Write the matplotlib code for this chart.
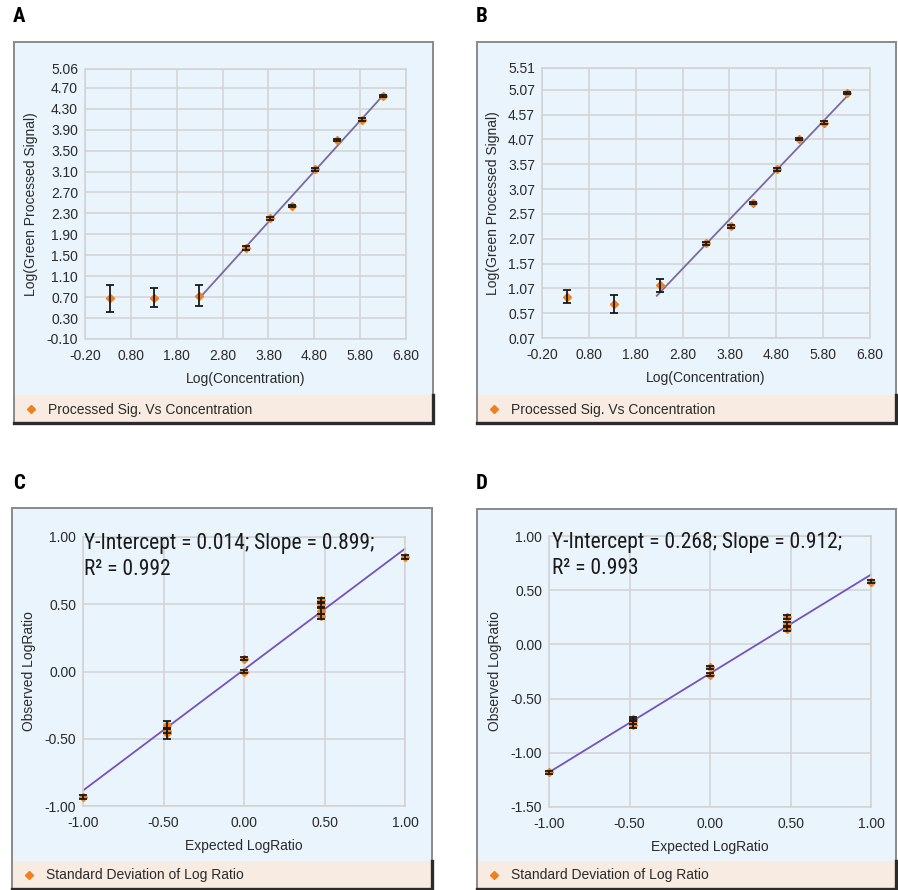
import matplotlib
matplotlib.use("Agg")
import matplotlib.pyplot as plt
import numpy as np
from matplotlib.patches import Rectangle

plt.rcParams['font.family'] = ['Liberation Sans', 'DejaVu Sans']
plt.rcParams['axes.unicode_minus'] = False

# ---- data ----
# A: green processed signal vs concentration
a_x = [0.35, 1.31, 2.29, 3.32, 3.83, 4.31, 4.82, 5.30, 5.83, 6.30]
a_y = [0.68, 0.69, 0.73, 1.64, 2.21, 2.44, 3.14, 3.71, 4.09, 4.55]
a_err = [0.26, 0.18, 0.20, 0.04, 0.03, 0.02, 0.02, 0.02, 0.03, 0.02]
a_yticks = [-0.10, 0.30, 0.70, 1.10, 1.50, 1.90, 2.30, 2.70, 3.10, 3.50, 3.90, 4.30, 4.70, 5.06]

# B
b_x = [0.33, 1.33, 2.32, 3.30, 3.84, 4.30, 4.82, 5.29, 5.82, 6.30]
b_y = [0.90, 0.76, 1.13, 1.98, 2.32, 2.79, 3.47, 4.08, 4.41, 5.00]
b_err = [0.13, 0.18, 0.13, 0.03, 0.03, 0.03, 0.03, 0.02, 0.03, 0.02]
b_yticks = [0.07, 0.57, 1.07, 1.57, 2.07, 2.57, 3.07, 3.57, 4.07, 4.57, 5.07, 5.51]

conc_xticks = [-0.20, 0.80, 1.80, 2.80, 3.80, 4.80, 5.80, 6.80]

# C: observed vs expected log ratio
c_x = [-1.0, -0.477, -0.477, -0.477, 0.0, 0.0, 0.477, 0.477, 0.477, 0.477, 1.0]
c_y = [-0.93, -0.40, -0.44, -0.46, 0.095, 0.0, 0.53, 0.50, 0.45, 0.41, 0.85]
c_err = [0.015, 0.03, 0.02, 0.04, 0.012, 0.008, 0.02, 0.02, 0.02, 0.02, 0.015]
c_icpt, c_slope, c_r2 = 0.014, 0.899, 0.992
c_yticks = [-1.00, -0.50, 0.00, 0.50, 1.00]

# D
d_x = [-1.0, -0.477, -0.477, -0.477, 0.0, 0.0, 0.477, 0.477, 0.477, 1.0]
d_y = [-1.18, -0.69, -0.71, -0.74, -0.21, -0.28, 0.25, 0.19, 0.14, 0.58]
d_err = [0.015, 0.02, 0.02, 0.03, 0.015, 0.015, 0.02, 0.02, 0.02, 0.015]
d_icpt, d_slope, d_r2 = -0.268, 0.912, 0.993
d_yticks = [-1.50, -1.00, -0.50, 0.00, 0.50, 1.00]

ratio_xticks = [-1.00, -0.50, 0.00, 0.50, 1.00]

W, H = 898, 890
fig = plt.figure(figsize=(W / 100, H / 100), dpi=100)

BG = '#eaf4fc'
STRIP = '#f8ece2'
GRID = '#d4d4d4'
ORANGE = '#f07f1e'
TXT = '#2a2a2a'
NARROW = ['Liberation Sans Narrow', 'Roboto Condensed', 'DejaVu Sans Condensed',
          'Liberation Sans', 'DejaVu Sans']


def rect(x0, y0, x1, y1):
    # pixel box (top-left origin) -> figure fraction
    return [x0 / W, 1 - y1 / H, (x1 - x0) / W, (y1 - y0) / H]


def frame(x0, y0, x1, y1, legend_text):
    w, h = x1 - x0, y1 - y0
    fa = fig.add_axes(rect(x0, y0, x1, y1))
    fa.set_facecolor(BG)
    fa.set_xticks([])
    fa.set_yticks([])
    fa.set_xlim(0, w)
    fa.set_ylim(0, h)
    for s in fa.spines.values():
        s.set_color('#8a8a8a')
        s.set_linewidth(1.4)
    fa.add_patch(Rectangle((0, 0), w, 28, color=STRIP, zorder=0))
    # dark shadow edge around legend strip
    fa.plot([0, w, w], [0, 0, 28], color='#2b2b2b', lw=2.4,
            solid_joinstyle='miter', clip_on=False, zorder=5)
    fa.plot([17], [14], marker='D', ms=4.5, color=ORANGE, ls='none')
    fa.text(34, 13.5, legend_text, fontsize=10, color=TXT, va='center')


def style(ax, xticks, yticks, xlabel, ylabel):
    ax.set_facecolor('none')
    ax.set_xlim(xticks[0], xticks[-1])
    ax.set_ylim(yticks[0], yticks[-1])
    ax.set_xticks(xticks)
    ax.set_yticks(yticks)
    ax.set_xticklabels(['%.2f' % v for v in xticks])
    ax.set_yticklabels(['%.2f' % v for v in yticks])
    ax.tick_params(length=0, labelsize=10, labelcolor=TXT)
    ax.tick_params(axis='x', pad=7)
    ax.tick_params(axis='y', pad=5)
    ax.grid(True, color=GRID, lw=1.2)
    ax.set_axisbelow(True)
    for s in ax.spines.values():
        s.set_color(GRID)
        s.set_linewidth(1.2)
    ax.set_xlabel(xlabel, fontsize=10, color=TXT, labelpad=7)
    ax.set_ylabel(ylabel, fontsize=10, color=TXT, labelpad=6)


def points(ax, x, y, err):
    ax.plot(x, y, ls='none', marker='D', ms=4, color=ORANGE, zorder=3, clip_on=False)
    eb = ax.errorbar(x, y, yerr=err, fmt='none', ecolor='#1a1a1a', elinewidth=1.3,
                     capsize=3, capthick=1.3, zorder=4)
    for art in eb.lines[1] + eb.lines[2]:
        art.set_clip_on(False)


def fit_text(ax, xpos, icpt, slope, r2):
    ax.text(xpos, 1.015, 'Y-Intercept = %.3f; Slope = %.3f;\nR\u00b2 = %.3f' % (abs(icpt), slope, r2),
            transform=ax.transAxes, ha='left', va='top', fontsize=15.5, color='#1a1a1a',
            family=NARROW, linespacing=1.3)


# ---- panel A ----
frame(14, 42, 433, 423, 'Processed Sig. Vs Concentration')
ax = fig.add_axes(rect(85, 69, 406, 339))
style(ax, conc_xticks, a_yticks, 'Log(Concentration)', 'Log(Green Processed Signal)')
k = np.polyfit(a_x[2:], a_y[2:], 1)
lx = np.array([a_x[2], a_x[-1]])
ax.plot(lx, np.polyval(k, lx), color='#7a6aa0', lw=1.3, zorder=2)
points(ax, a_x, a_y, a_err)

# ---- panel B ----
frame(477, 42, 896, 423, 'Processed Sig. Vs Concentration')
ax = fig.add_axes(rect(542, 68, 870, 338))
style(ax, conc_xticks, b_yticks, 'Log(Concentration)', 'Log(Green Processed Signal)')
k = np.polyfit(b_x[2:], b_y[2:], 1)
lx = np.array([2.25, b_x[-1]])
ax.plot(lx, np.polyval(k, lx), color='#7a6aa0', lw=1.3, zorder=2)
points(ax, b_x, b_y, b_err)

# ---- panel C ----
frame(12, 508, 432, 889, 'Standard Deviation of Log Ratio')
ax = fig.add_axes(rect(83, 537, 405, 806))
style(ax, ratio_xticks, c_yticks, 'Expected LogRatio', 'Observed LogRatio')
lx = np.array([-1.0, 1.0])
ax.plot(lx, c_icpt + c_slope * lx, color='#7453bd', lw=1.3, zorder=2, clip_on=False)
points(ax, c_x, c_y, c_err)
fit_text(ax, 0.003, c_icpt, c_slope, c_r2)

# ---- panel D ----
frame(477, 509, 896, 889, 'Standard Deviation of Log Ratio')
ax = fig.add_axes(rect(549, 536, 871, 807))
style(ax, ratio_xticks, d_yticks, 'Expected LogRatio', 'Observed LogRatio')
ax.plot(lx, d_icpt + d_slope * lx, color='#7453bd', lw=1.3, zorder=2, clip_on=False)
points(ax, d_x, d_y, d_err)
fit_text(ax, 0.008, d_icpt, d_slope, d_r2)

# panel letters
for lab, px, py in [('A', 13, 16), ('B', 476, 16), ('C', 13, 484), ('D', 476, 484)]:
    fig.text(px / W, 1 - py / H, lab, fontsize=15, fontweight='bold', va='center',
             family=NARROW)

fig.savefig('out.png', dpi=100)
